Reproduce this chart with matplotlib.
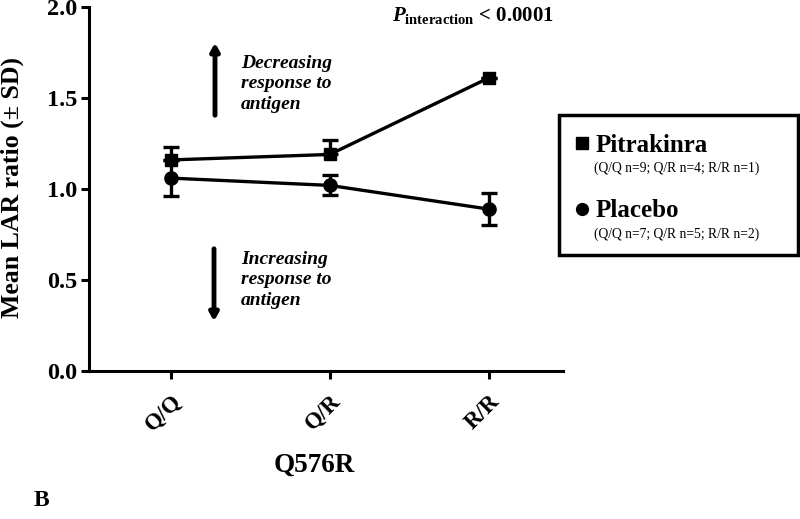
import matplotlib
matplotlib.use("Agg")
import matplotlib.pyplot as plt
from matplotlib.patches import Rectangle
from matplotlib.lines import Line2D

plt.rcParams['font.family'] = ['Liberation Serif', 'DejaVu Serif']
plt.rcParams['font.weight'] = 'bold'
plt.rcParams['mathtext.fontset'] = 'custom'
plt.rcParams['mathtext.rm'] = 'Liberation Serif:bold'
plt.rcParams['mathtext.it'] = 'Liberation Serif:italic:bold'
plt.rcParams['mathtext.bf'] = 'Liberation Serif:bold'

categories = ["Q/Q", "Q/R", "R/R"]
pitrakinra_mean = [1.16, 1.19, 1.61]
pitrakinra_sd = [0.07, 0.08, 0.0]
placebo_mean = [1.06, 1.02, 0.89]
placebo_sd = [0.10, 0.055, 0.09]
yticks = [0.0, 0.5, 1.0, 1.5, 2.0]

fig = plt.figure(figsize=(8.0, 5.19), dpi=100)
ax = fig.add_axes([0.111, 0.285, 0.593, 0.7015])

x = list(range(len(categories)))
zeros = [0] * len(pitrakinra_sd)
ax.errorbar(x, pitrakinra_mean, yerr=[zeros, pitrakinra_sd], color='black', marker='s',
            markersize=9, linewidth=2.4, elinewidth=2.4, capsize=5.5, capthick=2.4,
            zorder=3)
ax.errorbar(x, placebo_mean, yerr=placebo_sd, color='black', marker='o',
            markersize=9.5, linewidth=2.4, elinewidth=2.4, capsize=5.5, capthick=2.4,
            zorder=3)

ax.set_xlim(-0.517, 2.47)
ax.set_ylim(0, 2.0)
ax.set_yticks(yticks)
ax.set_yticklabels([f"{v:.1f}" for v in yticks], fontsize=17.5, fontweight='bold')
ax.set_xticks(x)
ax.set_xticklabels(categories, rotation=45, ha='right', va='top', fontsize=16.5,
                   fontweight='bold', rotation_mode='anchor')
for s in ['top', 'right']:
    ax.spines[s].set_visible(False)
for s in ['left', 'bottom']:
    ax.spines[s].set_linewidth(2.2)
ax.tick_params(axis='both', width=2.2, length=6, direction='out')
ax.tick_params(axis='y', pad=2)
ax.tick_params(axis='x', pad=8)

ax.set_ylabel("Mean LAR ratio (\u00b1 SD)", fontsize=18.5, fontweight='bold')
ax.yaxis.set_label_coords(-0.136, 0.505)
fig.text(314/800, 1 - 465/519, "Q576R", fontsize=19.5, fontweight='bold', ha='center', va='center')
fig.text(0.052, 0.035, "B", fontsize=17, fontweight='bold', ha='center', va='center')

# P interaction
fig.text(392/800, 0.97, r"$\mathit{P}_{\mathrm{interaction}}$ < 0.0001",
         ha='left', va='center', fontsize=15, fontweight='bold')

# arrows
arrow_style = dict(arrowstyle='-|>,head_length=0.45,head_width=0.25', lw=3.5, color='black')
ax.annotate("", xy=(215/800, 1 - 40/519), xytext=(215/800, 1 - 118/519),
            xycoords='figure fraction', textcoords='figure fraction', arrowprops=arrow_style)
ax.annotate("", xy=(214/800, 1 - 324/519), xytext=(214/800, 1 - 246/519),
            xycoords='figure fraction', textcoords='figure fraction', arrowprops=arrow_style)
fig.text(241/800, 1 - 84/519, "Decreasing\nresponse to\nantigen", fontsize=14,
         fontweight='bold', style='italic', ha='left', va='center', linespacing=1.3)
fig.text(241/800, 1 - 280/519, "Increasing\nresponse to\nantigen", fontsize=14,
         fontweight='bold', style='italic', ha='left', va='center', linespacing=1.3)

# legend box
box = Rectangle((559/800, 1 - 255/519), 239/800, 140/519, transform=fig.transFigure,
                fill=False, linewidth=2.5, edgecolor='black')
fig.patches.append(box)
fig.lines.append(Line2D([582/800], [1 - 143/519], marker='s', markersize=8,
                        color='black', transform=fig.transFigure))
fig.lines.append(Line2D([582/800], [1 - 209/519], marker='o', markersize=8.5,
                        color='black', transform=fig.transFigure))
fig.text(596/800, 1 - 145/519, "Pitrakinra", fontsize=18, fontweight='bold', ha='left', va='center')
fig.text(594/800, 1 - 168/519, "(Q/Q n=9; Q/R n=4; R/R n=1)", fontsize=9.8, fontweight='normal',
         ha='left', va='center')
fig.text(596/800, 1 - 211/519, "Placebo", fontsize=18, fontweight='bold', ha='left', va='center')
fig.text(594/800, 1 - 234/519, "(Q/Q n=7; Q/R n=5; R/R n=2)", fontsize=9.8, fontweight='normal',
         ha='left', va='center')

fig.savefig("out.png", dpi=100)
